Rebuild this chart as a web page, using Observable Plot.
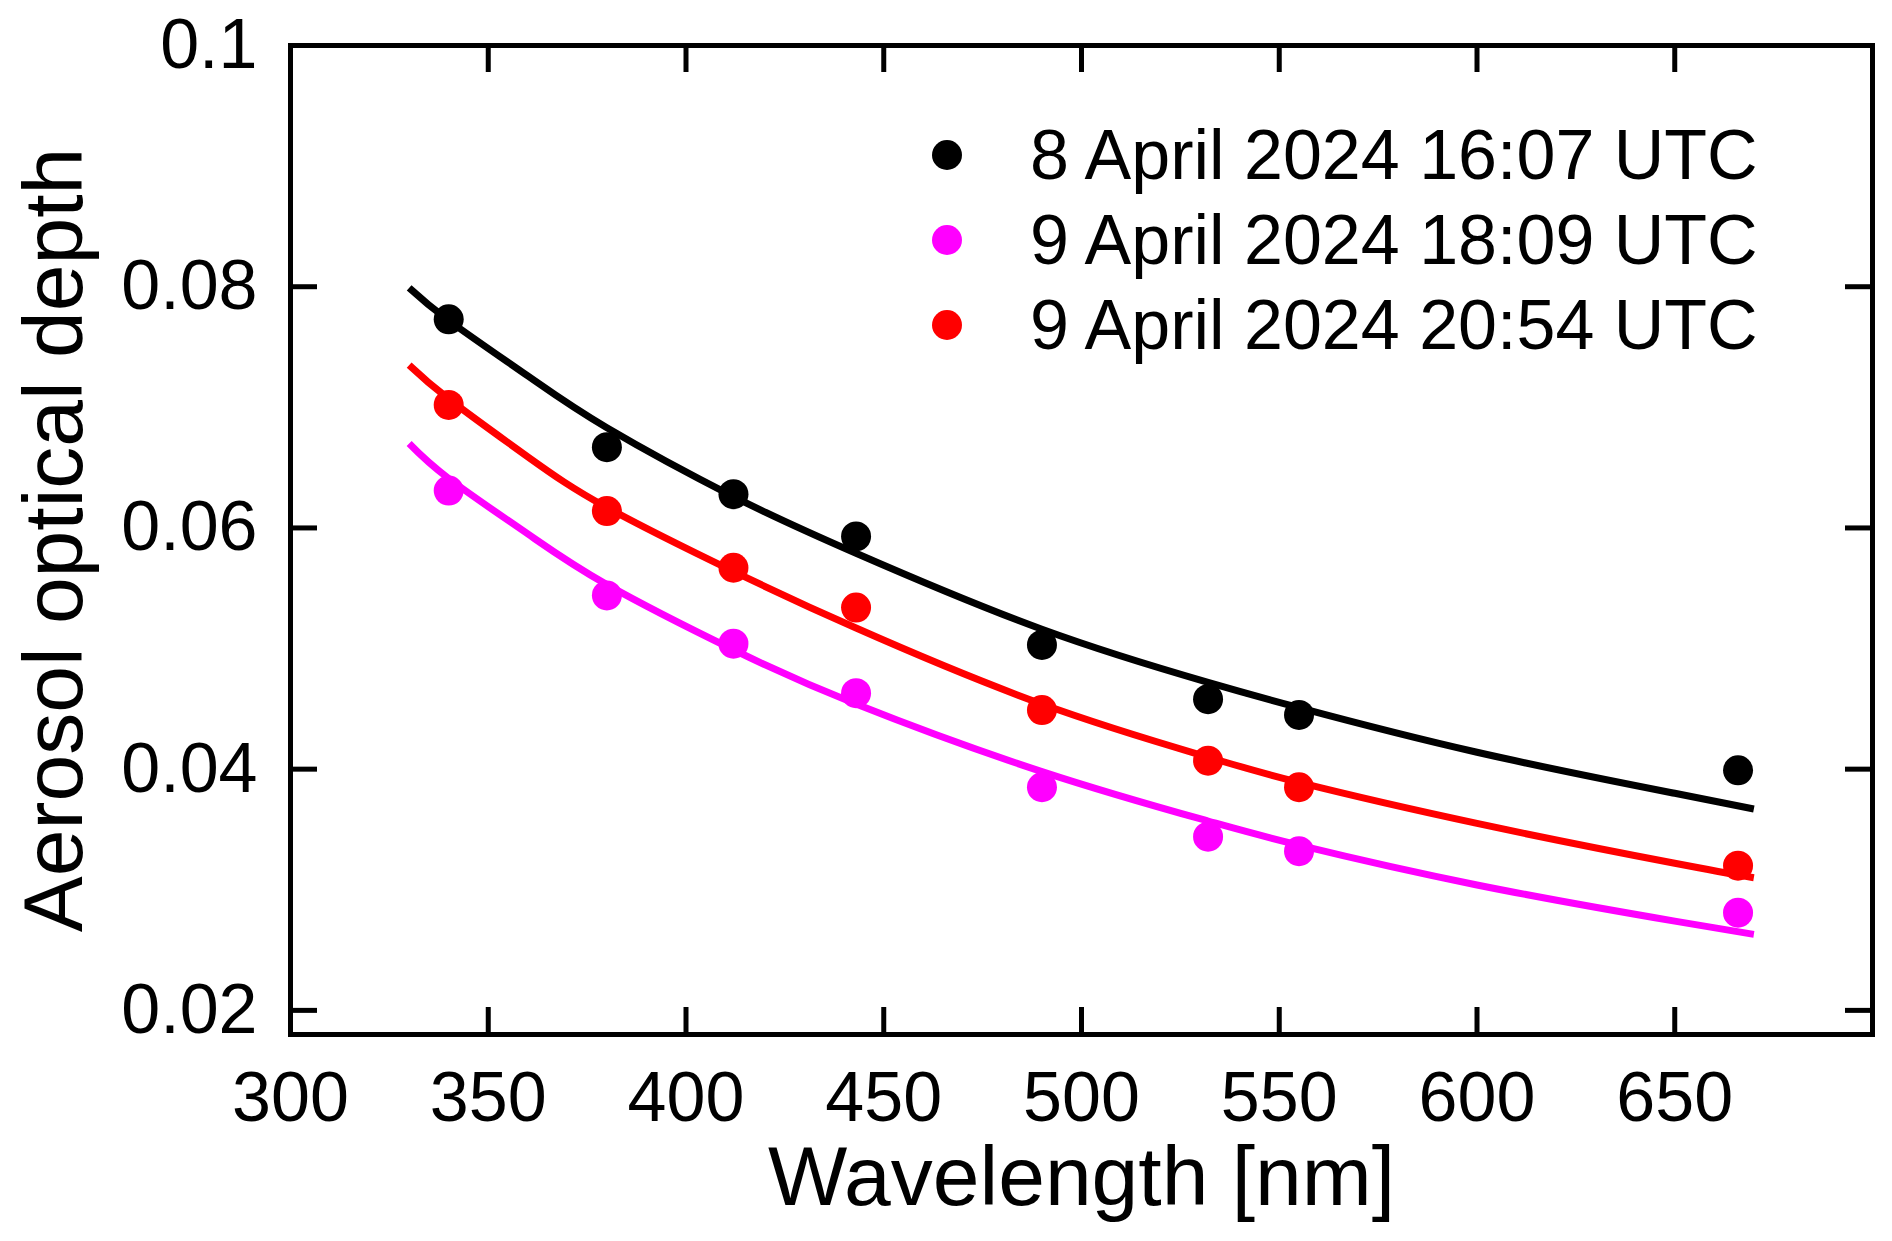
<!DOCTYPE html>
<html>
<head>
<meta charset="utf-8">
<script src="https://cdn.jsdelivr.net/npm/d3@7"></script>
<script src="https://cdn.jsdelivr.net/npm/@observablehq/plot@0.6"></script>
<style>
  body { margin: 0; background: #fff; }
  #wrap { position: relative; width: 1892px; height: 1241px; font-family: "Liberation Sans", Arial, sans-serif; }
  #legend { position: absolute; left: 932px; top: 112px; }
  .row { display: flex; align-items: center; height: 85px; font-size: 70px; white-space: nowrap; }
  .sw { width: 30px; height: 30px; border-radius: 50%; margin-right: 68px; }
</style>
</head>
<body>
<div id="wrap"><div id="chart"></div><div id="legend"></div></div>
<script>
// measured wavelengths (nm)
const wavelengths = [340, 380, 412, 443, 490, 532, 555, 666]
const aodApr8_1607 = [0.0773, 0.0667, 0.0628, 0.0593, 0.0503, 0.0458, 0.0445, 0.0399]
const aodApr9_1809 = [0.0631, 0.0544, 0.0504, 0.0463, 0.0385, 0.0344, 0.0332, 0.0281]
const aodApr9_2054 = [0.0702, 0.0614, 0.0567, 0.0534, 0.0449, 0.0407, 0.0385, 0.0320]

// fitted curves
const fitWavelengths = [330, 340, 360, 380, 412, 443, 490, 532, 555, 600, 650, 670]
const fitApr8_1607 = [0.0799, 0.0772, 0.0726, 0.0683, 0.0626, 0.0579, 0.0516, 0.0472, 0.0451, 0.0414, 0.0380, 0.0367]
const fitApr9_1809 = [0.0670, 0.0641, 0.0595, 0.0553, 0.0499, 0.0454, 0.0398, 0.0357, 0.0337, 0.0304, 0.0274, 0.0263]
const fitApr9_2054 = [0.0735, 0.0707, 0.0659, 0.0617, 0.0564, 0.0517, 0.0454, 0.0410, 0.0389, 0.0355, 0.0322, 0.0310]

const seriesLabels = ['8 April 2024 16:07 UTC', '9 April 2024 18:09 UTC', '9 April 2024 20:54 UTC']
const seriesColors = ['#000000', '#ff00ff', '#ff0000']

const xTicks = [300, 350, 400, 450, 500, 550, 600, 650]
const yTicks = [0.02, 0.04, 0.06, 0.08, 0.1]
const yTickLabels = ['0.02', '0.04', '0.06', '0.08', '0.1']
const xLabel = 'Wavelength [nm]'
const yLabel = 'Aerosol optical depth'

const measured = [aodApr8_1607, aodApr9_1809, aodApr9_2054]
const fitted = [fitApr8_1607, fitApr9_1809, fitApr9_2054]

const points = seriesLabels.flatMap((s, k) =>
  wavelengths.map((wl, i) => ({series: s, wl, aod: measured[k][i]})))
const fits = seriesLabels.flatMap((s, k) =>
  fitWavelengths.map((wl, i) => ({series: s, wl, aod: fitted[k][i]})))

const W = 1892, H = 1241
const mL = 290, mR = 20, mT = 45, mB = 207
const plotW = W - mL - mR, plotH = H - mT - mB
const tickLen = 27
const font = '"Liberation Sans", Arial, sans-serif'

const chart = Plot.plot({
  width: W,
  height: H,
  marginLeft: mL,
  marginRight: mR,
  marginTop: mT,
  marginBottom: mB,
  x: {domain: [300, 700], label: null},
  y: {domain: [0.018, 0.1], label: null},
  color: {domain: seriesLabels, range: seriesColors},
  style: {fontFamily: font, background: 'white', color: 'black'},
  marks: [
    Plot.line(fits, {x: 'wl', y: 'aod', z: 'series', stroke: 'series', strokeWidth: 7, curve: 'natural', strokeLinecap: 'butt'}),
    Plot.dot(points, {x: 'wl', y: 'aod', fill: 'series', r: 15}),
    // inward ticks on all four sides
    Plot.tickX(xTicks.slice(1), {x: d => d, insetTop: plotH - tickLen, strokeWidth: 5}),
    Plot.tickX(xTicks.slice(1), {x: d => d, insetBottom: plotH - tickLen, strokeWidth: 5}),
    Plot.tickY(yTicks.slice(0, -1), {y: d => d, insetRight: plotW - tickLen, strokeWidth: 5}),
    Plot.tickY(yTicks.slice(0, -1), {y: d => d, insetLeft: plotW - tickLen, strokeWidth: 5}),
    Plot.axisX(xTicks, {tickSize: 0, tickPadding: 37, fontSize: 70, label: null}),
    Plot.axisY(yTicks, {tickSize: 0, tickPadding: 33, fontSize: 70, label: null,
      tickFormat: d => yTickLabels[yTicks.indexOf(d)]}),
    Plot.frame({strokeWidth: 5}),
    Plot.text([xLabel], {frameAnchor: 'bottom', lineAnchor: 'bottom', dy: 170, fontSize: 84}),
    Plot.text([yLabel], {frameAnchor: 'left', textAnchor: 'middle', rotate: -90, dx: -235, fontSize: 84})
  ]
})

d3.select('#chart').append(() => chart)

// legend inside the plot area
const legend = d3.select('#legend')
seriesLabels.forEach((s, k) => {
  const row = legend.append('div').attr('class', 'row')
  row.append('span').attr('class', 'sw').style('background', seriesColors[k])
  row.append('span').text(s)
})
</script>
</body>
</html>
